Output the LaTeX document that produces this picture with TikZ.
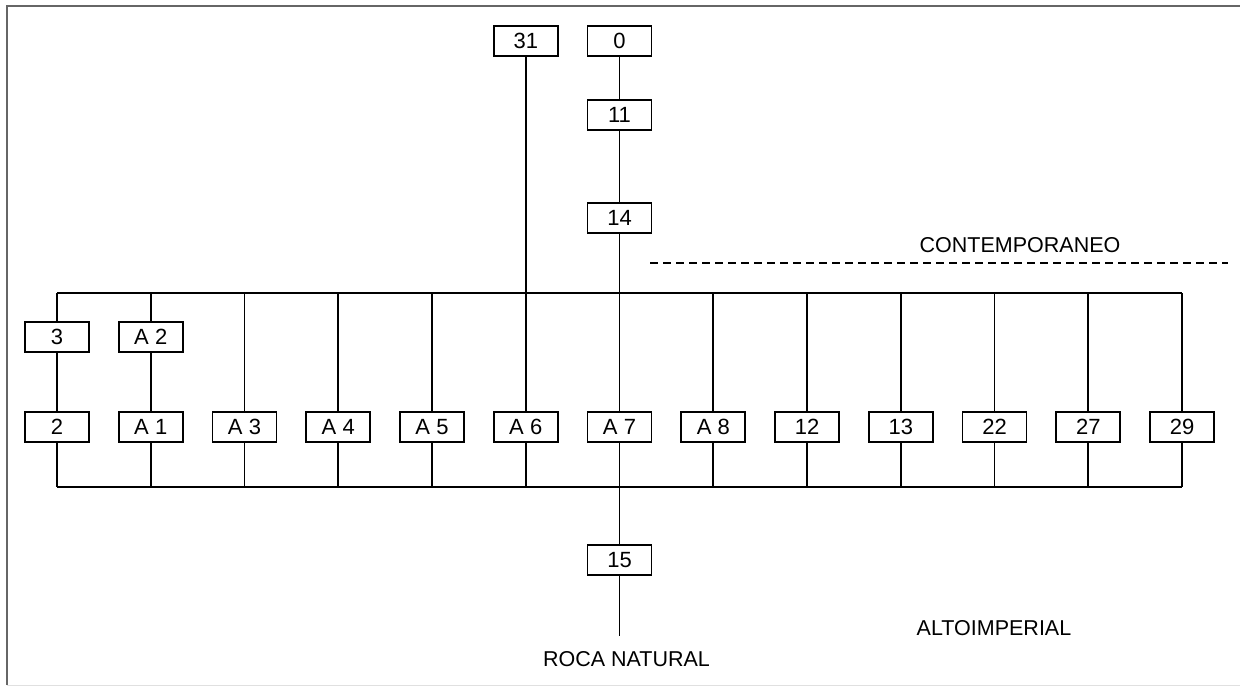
\documentclass[tikz,border=0pt]{standalone}
\usepackage{fontspec}
\setmainfont{Liberation Sans}
\usetikzlibrary{positioning}

\begin{document}
\begin{tikzpicture}[
    x=1pt, y=-1pt,
    line width=1.9pt,
    unitbox/.style={draw, fill=white, font=\fontsize{22}{25}\selectfont, inner sep=0pt, minimum width=64pt, minimum height=30pt}, % one box per unit
    labelstyle/.style={font=\fontsize{21.5}{24}\selectfont, inner sep=0pt},
    periodline/.style={dash pattern=on 8pt off 5pt, line width=1.6pt}
]
\useasboundingbox (0,0) rectangle (1241,686);

% Frame
\draw[black!60, line width=2pt] (7,685) -- (7,6) -- (1240,6);
\draw[black!12, line width=1pt] (7,685) -- (1240,685);

% Bottom row of units
\foreach \lab/\name [count=\i from 0] in {2/b2, A 1/a1, A 3/a3, A 4/a4, A 5/a5, A 6/a6, A 7/a7, A 8/a8, 12/b12, 13/b13, 22/b22, 27/b27, 29/b29}
    \node (\name) [unitbox] at (57+93.75*\i, 427) {\lab};

% Upper units
\node (b3) [unitbox, above=58pt of b2] {3};
\node (a2) [unitbox, above=58pt of a1] {A 2};

% Central sequence
\node (c14) [unitbox, above=177pt of a7] {14};
\node (c11) [unitbox, above=71pt of c14] {11};
\node (c0) [unitbox, above=42pt of c11] {0};
\node (c31) [unitbox, above=354pt of a6] {31};
\node (c15) [unitbox, below=101pt of a7] {15};

% Horizontal bus lines
\coordinate (bus_top) at (0,293);
\coordinate (bus_bottom) at (0,487);
\draw (b2 |- bus_top) -- (b29 |- bus_top);
\draw (b2 |- bus_bottom) -- (b29 |- bus_bottom);

% Links to the top bus
\draw (b3.north) -- (b3 |- bus_top);
\draw (a2.north) -- (a2 |- bus_top);
\draw (b3) -- (b2);
\draw (a2) -- (a1);
\foreach \name in {a3, a4, a5, a8, b12, b13, b22, b27, b29}
    \draw (\name.north) -- (\name |- bus_top);

% Links to the bottom bus
\foreach \name in {b2, a1, a3, a4, a5, a6, a8, b12, b13, b22, b27, b29}
    \draw (\name.south) -- (\name |- bus_bottom);

% Long verticals
\draw (c31) -- (a6);
\draw (c0) -- (c11) -- (c14) -- (a7) -- (c15);
\coordinate (roca_end) at ([yshift=-60pt]c15.south);
\draw (c15) -- (roca_end);

% Labels
\node (roca) [labelstyle, below=15pt of roca_end, xshift=7pt] {ROCA NATURAL};
\node (contemp) [labelstyle] at (1020,245) {CONTEMPORANEO};
\node (altoimp) [labelstyle] at (994,628) {ALTOIMPERIAL};
\coordinate (dash_start) at (650,263);
\coordinate (dash_end) at (1228,263);
\draw[periodline] (dash_start) -- (dash_end);

\end{tikzpicture}
\end{document}
